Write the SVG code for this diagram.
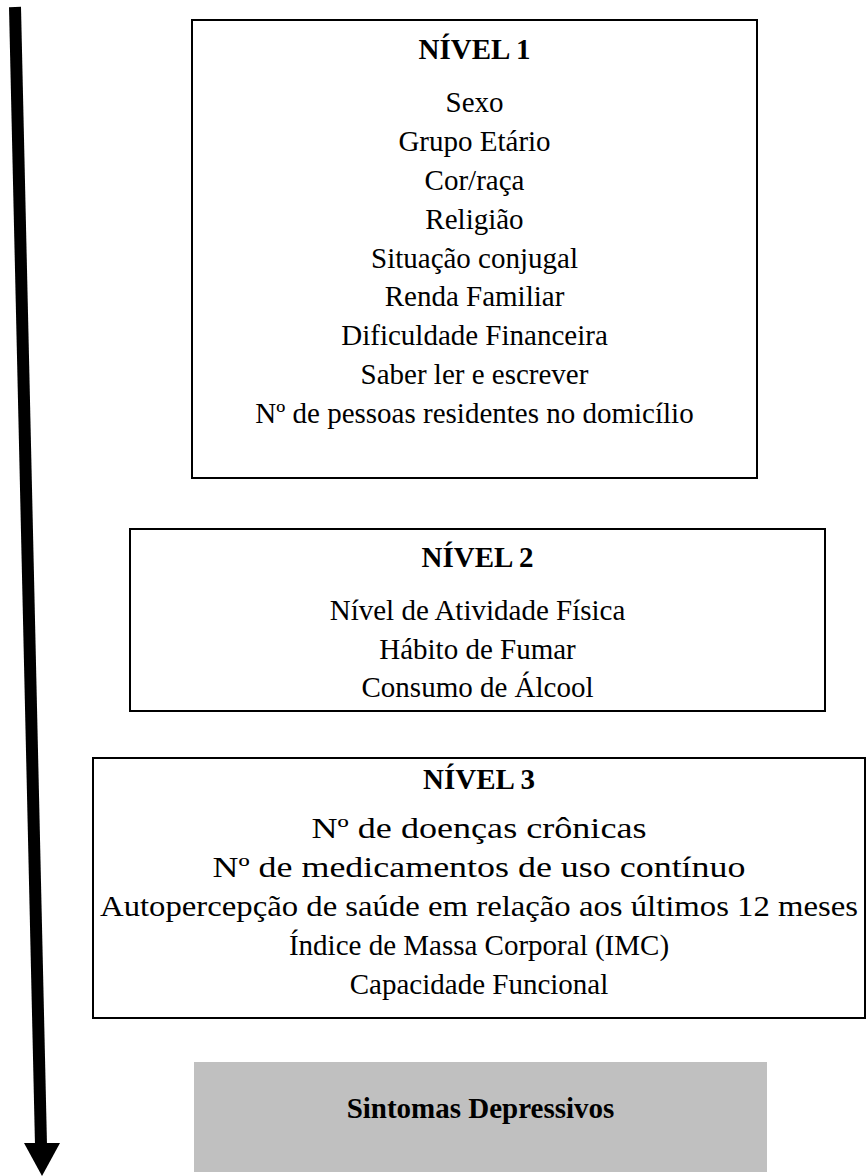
<svg xmlns="http://www.w3.org/2000/svg" width="867" height="1176" viewBox="0 0 867 1176">
<style>
.box{fill:#fff;stroke:#000;stroke-width:2}
.t{font-family:"Liberation Serif","Times New Roman",serif;font-size:29px;fill:#000;text-anchor:middle}
.b{font-weight:bold}
</style>
<rect width="867" height="1176" fill="#fff"/>
<g id="connectors">
<line x1="15" y1="7" x2="41" y2="1145" stroke="#000" stroke-width="12"/>
<polygon points="24,1143 60,1143 42,1176" fill="#000"/>
</g>
<g id="nivel1">
<rect class="box" x="192" y="20" width="565" height="458"/>
<text class="t b" x="474.5" y="59">NÍVEL 1</text>
<text class="t" x="474.5" y="112">Sexo</text>
<text class="t" x="474.5" y="151">Grupo Etário</text>
<text class="t" x="474.5" y="190">Cor/raça</text>
<text class="t" x="474.5" y="229">Religião</text>
<text class="t" x="474.5" y="268">Situação conjugal</text>
<text class="t" x="474.5" y="306">Renda Familiar</text>
<text class="t" x="474.5" y="345">Dificuldade Financeira</text>
<text class="t" x="474.5" y="384">Saber ler e escrever</text>
<text class="t" x="474.5" y="423">Nº de pessoas residentes no domicílio</text>
</g>
<g id="nivel2">
<rect class="box" x="130" y="529" width="695" height="182"/>
<text class="t b" x="477.5" y="567">NÍVEL 2</text>
<text class="t" x="477.5" y="620">Nível de Atividade Física</text>
<text class="t" x="477.5" y="659">Hábito de Fumar</text>
<text class="t" x="477.5" y="697">Consumo de Álcool</text>
</g>
<g id="nivel3">
<rect class="box" x="93" y="758" width="772" height="260"/>
<text class="t b" x="479" y="789">NÍVEL 3</text>
<text class="t" x="479" y="838" font-size="31" textLength="335" lengthAdjust="spacingAndGlyphs">Nº de doenças crônicas</text>
<text class="t" x="479" y="877" font-size="31" textLength="533" lengthAdjust="spacingAndGlyphs">Nº de medicamentos de uso contínuo</text>
<text class="t" x="479" y="916" font-size="31" textLength="758" lengthAdjust="spacingAndGlyphs">Autopercepção de saúde em relação aos últimos 12 meses</text>
<text class="t" x="479" y="955">Índice de Massa Corporal (IMC)</text>
<text class="t" x="479" y="994">Capacidade Funcional</text>
</g>
<g id="sintomas">
<rect x="194" y="1062" width="573" height="110" fill="#c0c0c0"/>
<text class="t b" x="480.5" y="1118">Sintomas Depressivos</text>
</g>
</svg>
